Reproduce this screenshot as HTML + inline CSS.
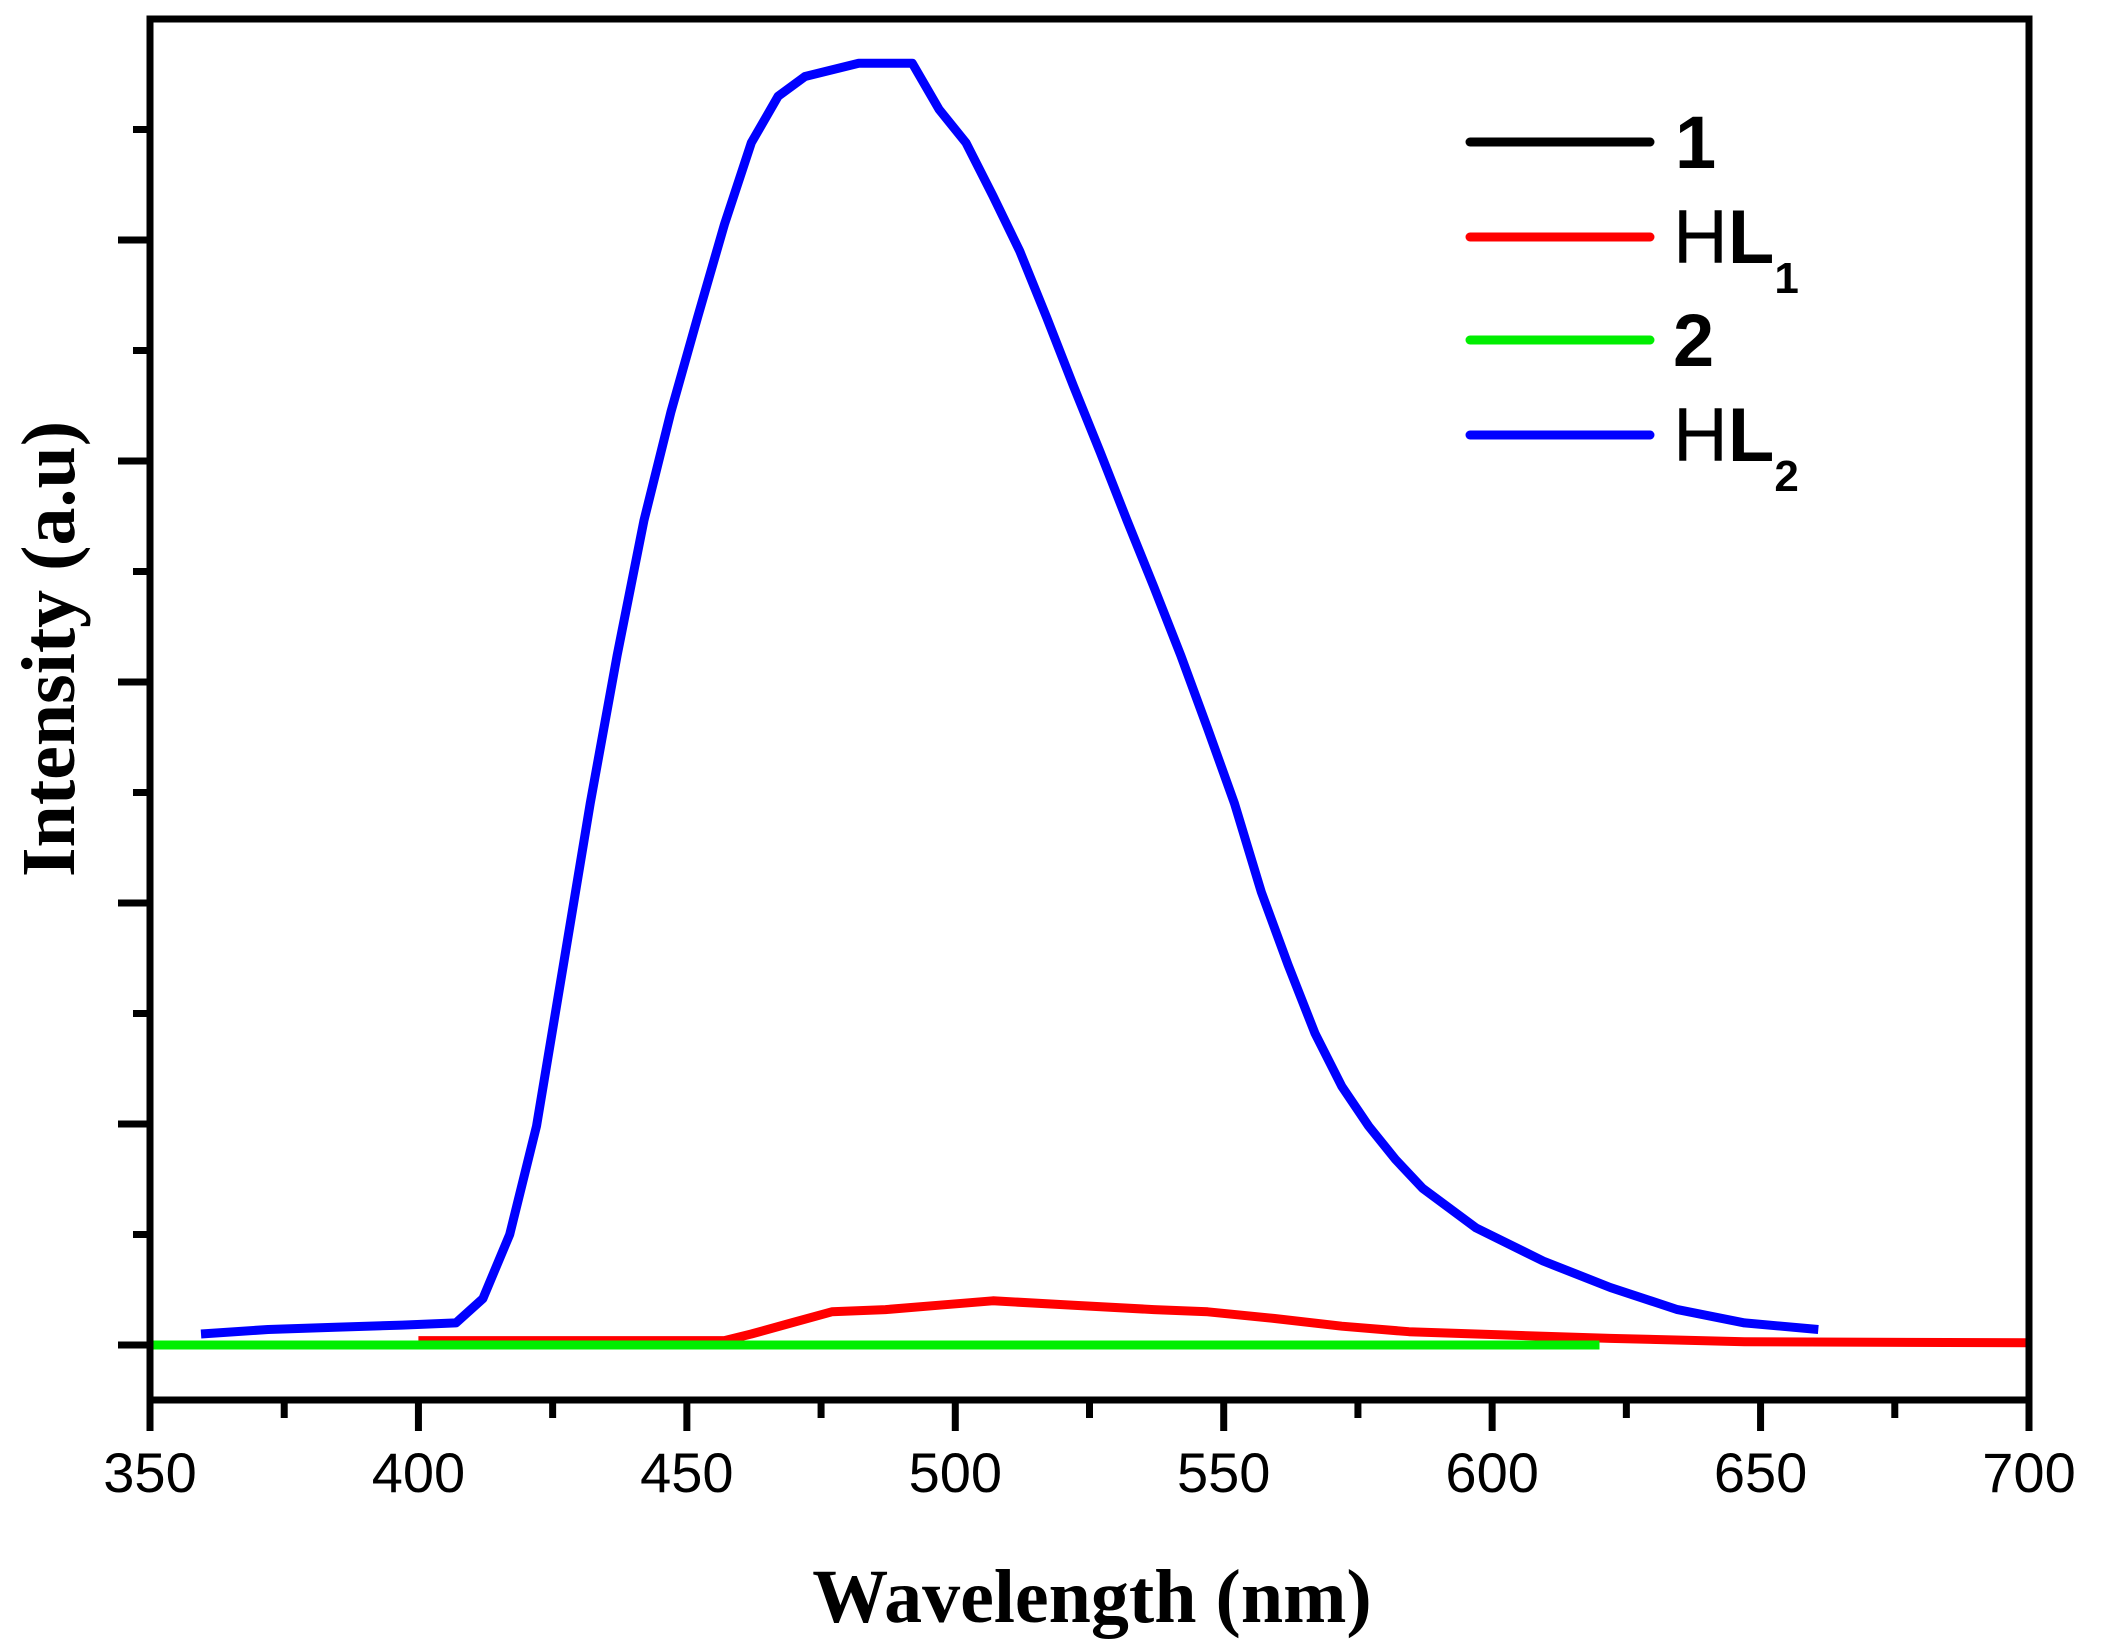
<!DOCTYPE html>
<html><head><meta charset="utf-8"><style>
html,body{margin:0;padding:0;background:#fff;}
svg{display:block;}
</style></head><body>
<svg id="chart" width="2104" height="1644" viewBox="0 0 2104 1644" xmlns="http://www.w3.org/2000/svg">
<g id="series"></g>
<g id="axes"></g>
<text x="1092" y="1622" text-anchor="middle" font-family="Liberation Serif, serif" font-weight="bold" font-size="76">Wavelength (nm)</text>
<text transform="translate(74,649) rotate(-90)" text-anchor="middle" font-family="Liberation Serif, serif" font-weight="bold" font-size="76">Intensity (a.u)</text>
<g font-family="Liberation Sans, sans-serif">
<line x1="1470" y1="142" x2="1650" y2="142" stroke="#000" stroke-width="9" stroke-linecap="round"/>
<text x="1675" y="168" font-size="74" font-weight="bold">1</text>
<line x1="1470" y1="237" x2="1650" y2="237" stroke="#ff0000" stroke-width="9" stroke-linecap="round"/>
<text x="1673" y="263" font-size="76">H<tspan font-weight="bold">L</tspan><tspan font-size="44" font-weight="bold" dy="30">1</tspan></text>
<line x1="1470" y1="340" x2="1650" y2="340" stroke="#00ee00" stroke-width="9" stroke-linecap="round"/>
<text x="1673" y="366" font-size="74" font-weight="bold">2</text>
<line x1="1470" y1="435" x2="1650" y2="435" stroke="#0000ff" stroke-width="9" stroke-linecap="round"/>
<text x="1673" y="461" font-size="76">H<tspan font-weight="bold">L</tspan><tspan font-size="44" font-weight="bold" dy="30">2</tspan></text>
</g>
</svg>
<script>
const xTicks = [350,400,450,500,550,600,650,700];
const blueW = [359.5,372,384.5,397,407,412,417,422,427,432,437,442,447,452,457,462,467,472,482,492,497,502,507,512,517,522,527,532,537,542,547,552,557,562,567,572,577,582,587,592,597,609.5,622,634.5,647,660.75];
const blueV = [0.05,0.07,0.08,0.09,0.10,0.21,0.50,0.99,1.72,2.45,3.12,3.73,4.22,4.65,5.07,5.44,5.65,5.74,5.80,5.80,5.59,5.44,5.20,4.95,4.65,4.34,4.04,3.73,3.43,3.12,2.79,2.45,2.05,1.72,1.41,1.17,0.99,0.84,0.71,0.62,0.53,0.38,0.26,0.16,0.10,0.07];
const redW = [400,457,462,469.5,477,487,497,507,522,537,547,559.5,572,584.5,597,622,647,700];
const redV = [0.02,0.02,0.05,0.10,0.15,0.16,0.18,0.20,0.18,0.16,0.15,0.12,0.085,0.06,0.05,0.03,0.015,0.01];
const greenW = [350,620];
const greenV = [0,0];
const blackW = [400,620];
const blackV = [0,0];

const X0=150, X1=2029, YTOP=19, YBOT=1400, Y0=1345, MAJ=221;
const xs = w => X0 + (w-350)/(700-350)*(X1-X0);
const ys = v => Y0 - v*MAJ;
const NS='http://www.w3.org/2000/svg';
const series = document.getElementById('series');
const axes = document.getElementById('axes');
function mk(tag, attrs, parent){const e=document.createElementNS(NS,tag);for(const k in attrs)e.setAttribute(k,attrs[k]);parent.appendChild(e);return e;}
function drawLine(W,V,color,name){
  const d = W.map((w,i)=>(i?'L':'M')+xs(w).toFixed(1)+','+ys(V[i]).toFixed(1)).join(' ');
  const p = mk('path',{d:d,fill:'none',stroke:color,'stroke-width':9,'stroke-linejoin':'round','stroke-linecap':'butt'},series);
  
  
}
drawLine(blackW,blackV,'#000','series-1-line');
drawLine(redW,redV,'#ff0000','series-hl1-line');
drawLine(blueW,blueV,'#0000ff','series-hl2-line');
drawLine(greenW,greenV,'#00ee00','series-2-line');

const frame = mk('rect',{x:X0,y:YTOP,width:X1-X0,height:YBOT-YTOP,fill:'none',stroke:'#000','stroke-width':7},axes);


xTicks.forEach((t,i)=>{
  const x=xs(t);
  const tk=mk('line',{x1:x,y1:YBOT,x2:x,y2:YBOT+31,stroke:'#000','stroke-width':7},axes);
  
  
  const lb=mk('text',{x:x,y:1492,'text-anchor':'middle','font-family':'Liberation Sans, sans-serif','font-size':56},axes);
  lb.textContent=t;
  
  
  if(i<xTicks.length-1){
    const xm=xs(t+25);
    const mn=mk('line',{x1:xm,y1:YBOT,x2:xm,y2:YBOT+18,stroke:'#000','stroke-width':7},axes);
    
    
  }
});
for(let k=0;k<=5;k++){
  const y=ys(k);
  const tk=mk('line',{x1:X0-32,y1:y,x2:X0,y2:y,stroke:'#000','stroke-width':7},axes);
  
  
  const ym=ys(k+0.5);
  const mn=mk('line',{x1:X0-17,y1:ym,x2:X0,y2:ym,stroke:'#000','stroke-width':7},axes);
  
  
}
</script>
</body></html>
